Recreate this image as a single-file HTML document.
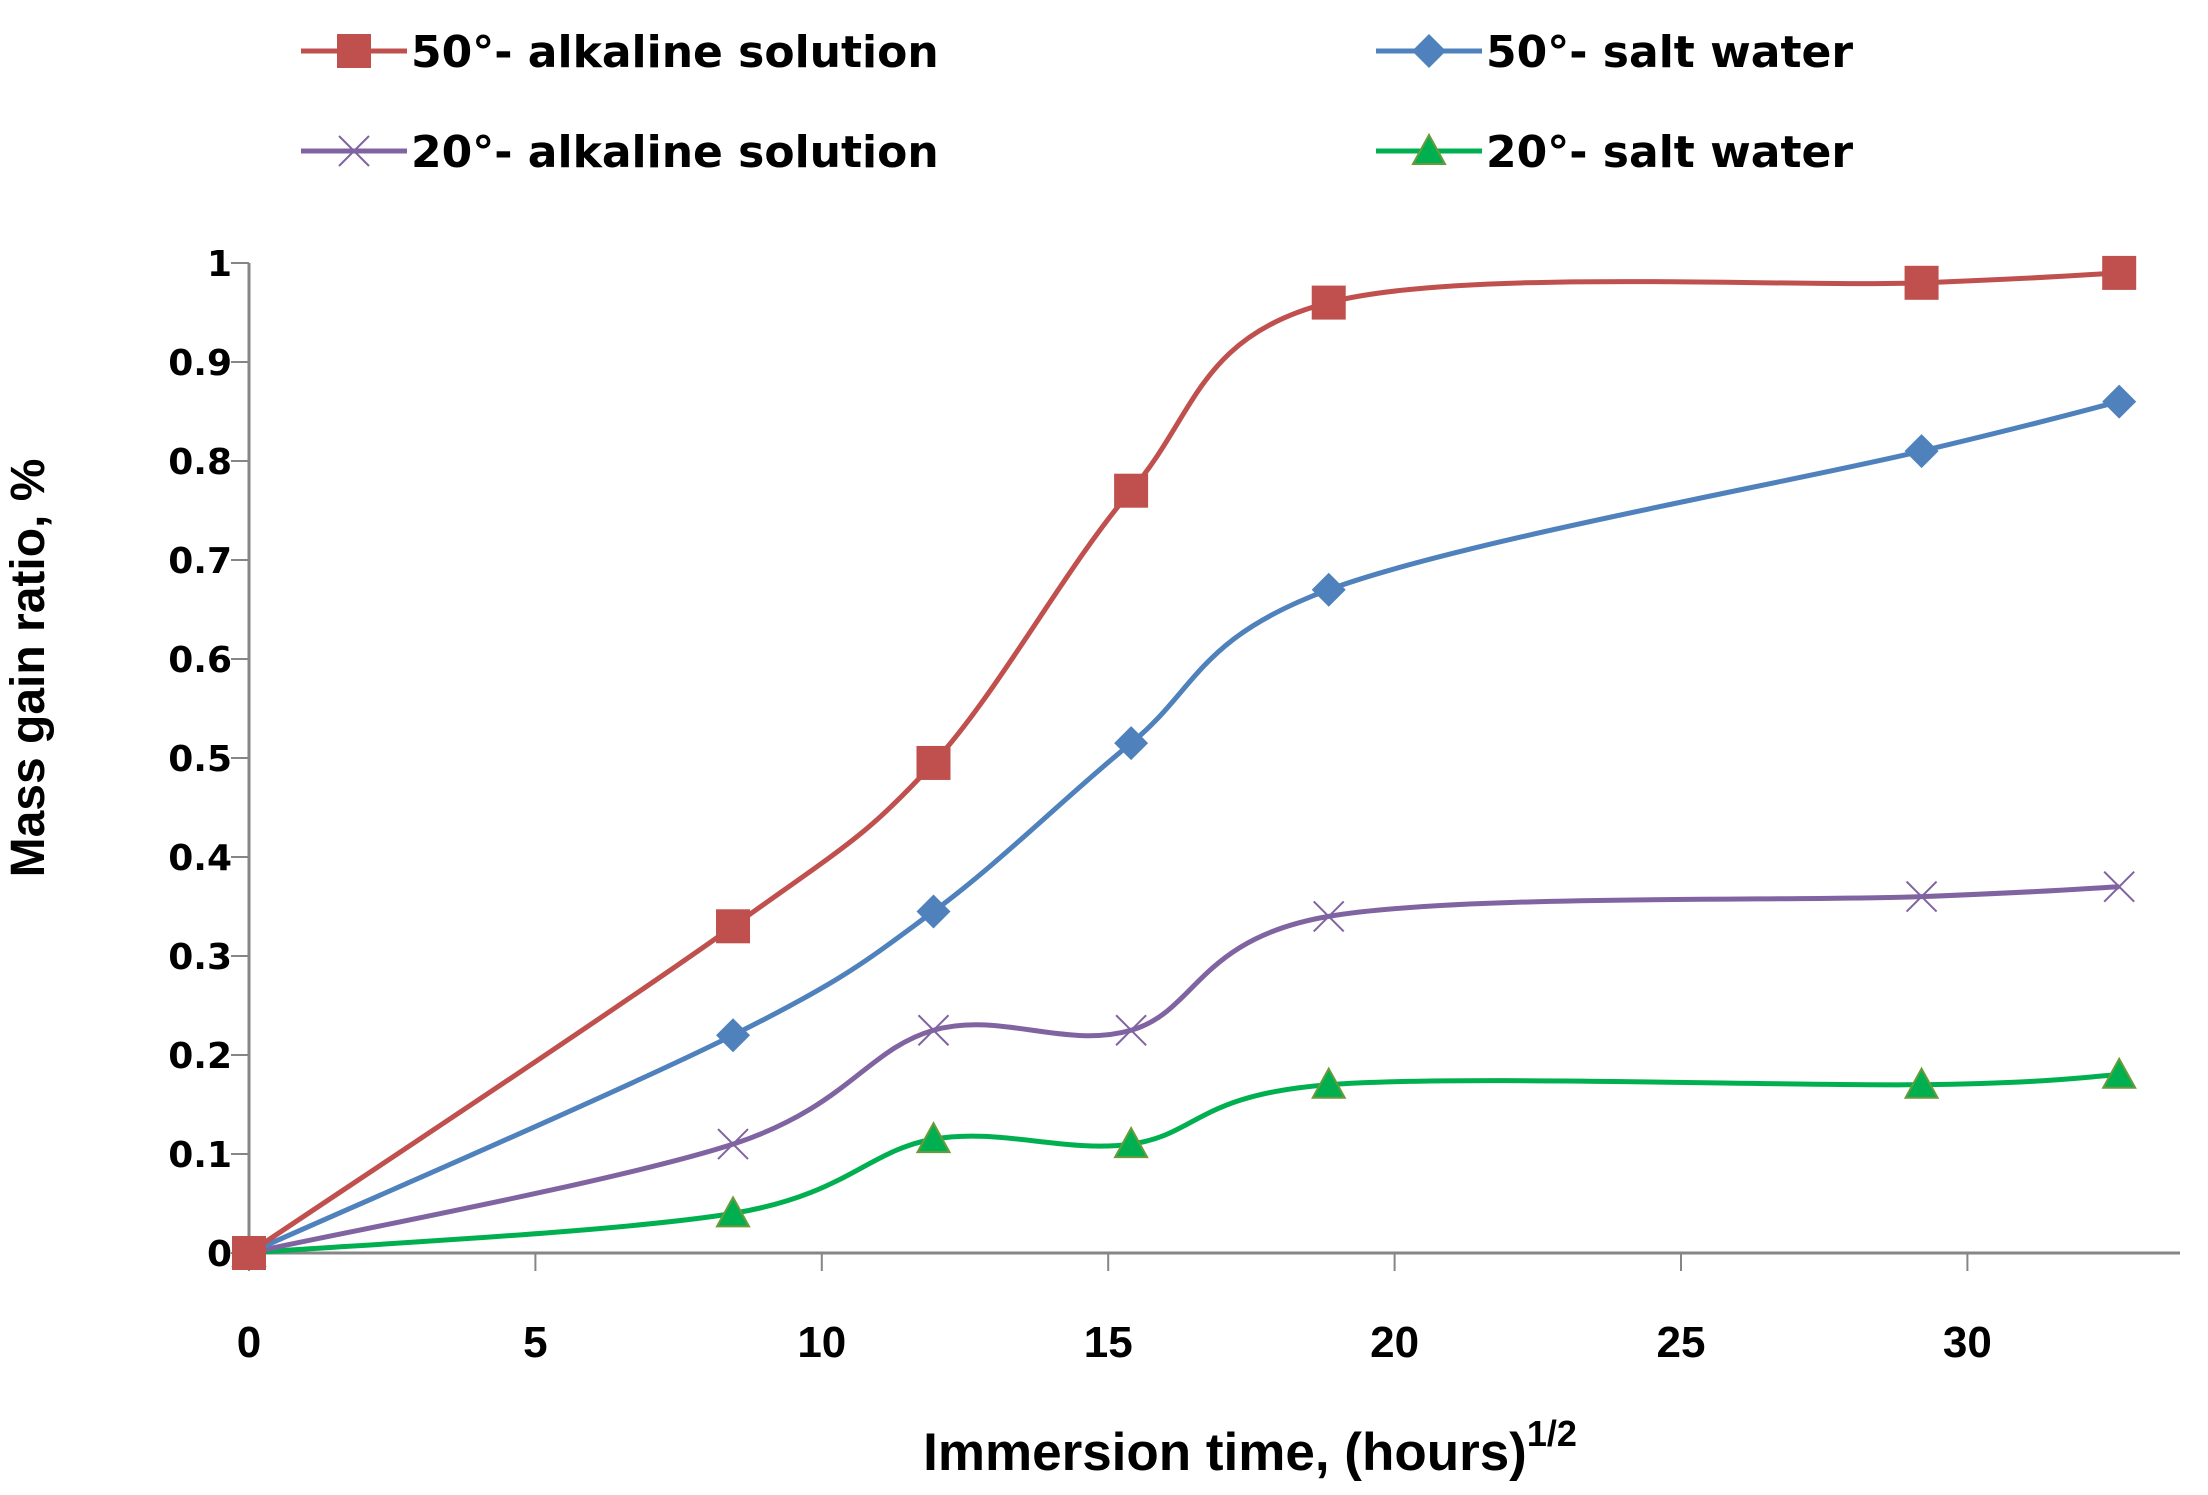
<!DOCTYPE html>
<html><head><meta charset="utf-8"><style>
html,body{margin:0;padding:0;background:#fff;}
svg{display:block;}
text{font-family:"Liberation Sans",sans-serif;font-weight:bold;fill:#000;}
.dv{font-family:"DejaVu Sans","Liberation Sans",sans-serif;}
</style></head><body>
<svg id="chart" width="2208" height="1495" viewBox="0 0 2208 1495" xmlns="http://www.w3.org/2000/svg">
<g id="axes"></g>
<g id="series"></g>
<g id="legend"></g>
<text x="44" y="668" font-size="48" text-anchor="middle" transform="rotate(-90 44 668)">Mass gain ratio, %</text>
<text x="1250" y="1470" font-size="53" text-anchor="middle">Immersion time,  (hours)<tspan font-size="36" dy="-24">1/2</tspan></text>
</svg>
<script>
const xValues = [0, 8.45, 11.95, 15.4, 18.85, 29.2, 32.65];
const red = [0, 0.33, 0.495, 0.77, 0.96, 0.98, 0.99];
const blue = [0, 0.22, 0.345, 0.515, 0.67, 0.81, 0.86];
const purple = [0, 0.11, 0.225, 0.225, 0.34, 0.36, 0.37];
const green = [0, 0.04, 0.115, 0.11, 0.17, 0.17, 0.18];
const xTicks = [0, 5, 10, 15, 20, 25, 30];
const yTicks = [0, 0.1, 0.2, 0.3, 0.4, 0.5, 0.6, 0.7, 0.8, 0.9, 1];
const yTickLabels = ["0", "0.1", "0.2", "0.3", "0.4", "0.5", "0.6", "0.7", "0.8", "0.9", "1"];

const NS = "http://www.w3.org/2000/svg";
const X0 = 249, XU = 57.28, Y0 = 1253, YU = 990;
const sx = v => X0 + v * XU;
const sy = v => Y0 - v * YU;
function mk(tag, attrs, parent) {
  const e = document.createElementNS(NS, tag);
  for (const k in attrs) e.setAttribute(k, attrs[k]);
  parent.appendChild(e);
  return e;
}
const axes = document.getElementById('axes');
let yl = mk('line', {x1: sx(0), y1: sy(0), x2: sx(0), y2: sy(1), stroke: '#868686', 'stroke-width': 3}, axes);


let xl = mk('line', {x1: sx(0), y1: sy(0), x2: 2180, y2: sy(0), stroke: '#868686', 'stroke-width': 3}, axes);


yTicks.forEach((t, i) => {
  const tk = mk('line', {x1: sx(0) - 18, y1: sy(t), x2: sx(0), y2: sy(t), stroke: '#868686', 'stroke-width': 2}, axes);
  
  
  const lb = mk('text', {x: 232, y: sy(t) + 13, 'font-size': 36, 'text-anchor': 'end', class: 'dv'}, axes);
  lb.textContent = yTickLabels[i];
  
  
});
xTicks.forEach(t => {
  const tk = mk('line', {x1: sx(t), y1: sy(0), x2: sx(t), y2: sy(0) + 18, stroke: '#868686', 'stroke-width': 2}, axes);
  
  
  const lb = mk('text', {x: sx(t), y: 1357, 'font-size': 44, 'text-anchor': 'middle'}, axes);
  lb.textContent = String(t);
  
  
});

function smoothPath(pts) {
  let d = `M${pts[0][0]},${pts[0][1]}`;
  for (let i = 0; i < pts.length - 1; i++) {
    const p0 = pts[Math.max(0, i - 1)], p1 = pts[i], p2 = pts[i + 1], p3 = pts[Math.min(pts.length - 1, i + 2)];
    const c1 = [p1[0] + (p2[0] - p0[0]) / 6, p1[1] + (p2[1] - p0[1]) / 6];
    const c2 = [p2[0] - (p3[0] - p1[0]) / 6, p2[1] - (p3[1] - p1[1]) / 6];
    d += ` C${c1[0]},${c1[1]} ${c2[0]},${c2[1]} ${p2[0]},${p2[1]}`;
  }
  return d;
}
function marker(type, cx, cy, color, parent) {
  let e;
  if (type === 'square') e = mk('rect', {x: cx - 17, y: cy - 17, width: 34, height: 34, fill: color}, parent);
  else if (type === 'diamond') e = mk('polygon', {points: `${cx},${cy - 17} ${cx + 17},${cy} ${cx},${cy + 17} ${cx - 17},${cy}`, fill: color}, parent);
  else if (type === 'triangle') e = mk('polygon', {points: `${cx},${cy - 16} ${cx + 16},${cy + 13} ${cx - 16},${cy + 13}`, fill: '#00B050', stroke: '#6a9a3a', 'stroke-width': 2}, parent);
  else {
    e = mk('path', {d: `M${cx - 15},${cy - 15}L${cx + 15},${cy + 15}M${cx + 15},${cy - 15}L${cx - 15},${cy + 15}`, stroke: color, 'stroke-width': 2, fill: 'none'}, parent);
  }
  return e;
}
const seriesDefs = [
  {vals: green, color: '#00B050', m: 'triangle', name: 'series-20-salt-water'},
  {vals: purple, color: '#8064A2', m: 'cross', name: 'series-20-alkaline'},
  {vals: blue, color: '#4F81BD', m: 'diamond', name: 'series-50-salt-water'},
  {vals: red, color: '#C0504D', m: 'square', name: 'series-50-alkaline'}
];
const sg = document.getElementById('series');
seriesDefs.forEach(s => {
  const g = mk('g', {}, sg);
  
  
  const pts = xValues.map((x, i) => [sx(x), sy(s.vals[i])]);
  const p = mk('path', {d: smoothPath(pts), stroke: s.color, 'stroke-width': 5, fill: 'none'}, g);
  
  
  pts.forEach(pt => {
    const m = marker(s.m, pt[0], pt[1], s.color, g);
    
    
  });
});

const legendItems = [
  {label: '50°- alkaline solution', color: '#C0504D', m: 'square', x: 301, y: 51},
  {label: '50°- salt water', color: '#4F81BD', m: 'diamond', x: 1376, y: 51},
  {label: '20°- alkaline solution', color: '#8064A2', m: 'cross', x: 301, y: 151},
  {label: '20°- salt water', color: '#00B050', m: 'triangle', x: 1376, y: 151}
];
const lg = document.getElementById('legend');
legendItems.forEach(it => {
  const g = mk('g', {}, lg);
  
  
  mk('line', {x1: it.x, y1: it.y, x2: it.x + 106, y2: it.y, stroke: it.color, 'stroke-width': 5}, g);
  marker(it.m, it.x + 53, it.y, it.color, g);
  const t = mk('text', {x: it.x + 110, y: it.y + 16, 'font-size': 44, class: 'dv'}, g);
  t.textContent = it.label;
});
</script>
</body></html>
